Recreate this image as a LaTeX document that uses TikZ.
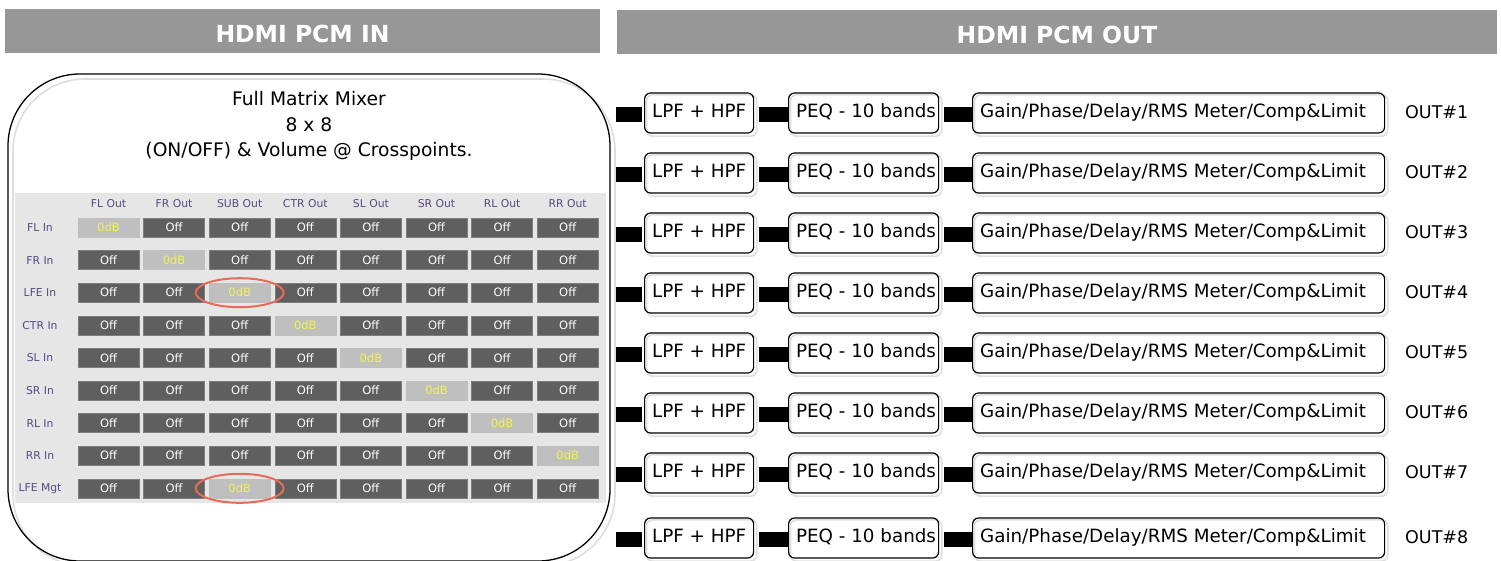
\documentclass[tikz,border=0pt]{standalone}
\usepackage{fontspec}
\setmainfont{DejaVu Sans}
\usetikzlibrary{calc,backgrounds}
\definecolor{barcol}{RGB}{151,151,151}
\definecolor{panelcol}{RGB}{230,230,230}
\definecolor{cellcol}{RGB}{95,95,95}
\definecolor{celledge}{RGB}{125,125,125}
\definecolor{diagcol}{RGB}{191,191,191}
\definecolor{dbyellow}{RGB}{242,242,80}
\definecolor{labpurple}{RGB}{88,72,132}
\definecolor{ringred}{RGB}{230,108,88}
\definecolor{shadowcol}{RGB}{222,222,222}
\newcommand{\leftin}[2]{\makebox[#1pt][l]{#2}}
\tikzset{
  bar/.style={fill=barcol, inner sep=0, minimum height=44},
  hdr/.style={text=white, inner sep=0, font=\fontsize{23.5}{23.5}\selectfont\bfseries},
  cell/.style={fill=cellcol, draw=celledge, line width=0.6, minimum width=61, minimum height=19, inner sep=0, text=white, font=\fontsize{11.5}{11.5}\selectfont},
  dcell/.style={cell, fill=diagcol, draw=diagcol, text=dbyellow},
  lab/.style={text=labpurple, inner sep=0, font=\fontsize{10.8}{10.8}\selectfont},
  pbox/.style={draw, line width=1.2, rounded corners=6, minimum height=40, inner xsep=7, inner ysep=0, text height=13, text depth=3.5, anchor=west, font=\fontsize{18.3}{18.3}\selectfont},
  shadowline/.style={draw=shadowcol, line width=1.6, rounded corners=6},
  link/.style={line width=15},
  outlab/.style={anchor=west, inner sep=0, font=\fontsize{17.5}{17.5}\selectfont},
  ring/.style={draw=ringred, line width=2},
}
\begin{document}
\begin{tikzpicture}[x=1pt,y=-1pt]
\useasboundingbox (0,0) rectangle (1501,560);
% header bars
\node[bar, minimum width=595] (inbar) at (302.5,31) {};
\node[hdr] (intitle) at (302.5,34) {HDMI PCM IN};
\node[bar, minimum width=880] (outbar) at (1057,31.5) {};
\node[hdr] (outtitle) at (1057,34.5) {HDMI PCM OUT};
% mixer box
\draw[shadowcol, line width=1.6, rounded corners=72] (13,79) rectangle (615,566);
\draw[line width=1.3, rounded corners=72] (8,74) rectangle (610,561);
\node[align=center, inner sep=0, font=\fontsize{18.7}{25.5}\selectfont] (mixtitle) at (309,126) {Full Matrix Mixer\\8 x 8\\(ON/OFF) \& Volume @ Crosspoints.};
% matrix panel
\fill[panelcol] (15,193) rectangle (606,503);
\foreach \cl [count=\j from 0] in {FL Out,FR Out,SUB Out,CTR Out,SL Out,SR Out,RL Out,RR Out}
  \node[lab] (col\j) at ({108.5+65.6*\j},204) {\cl};
\foreach \rl [count=\i from 0] in {FL In,FR In,LFE In,CTR In,SL In,SR In,RL In,RR In,LFE Mgt}{
  \node[lab] (row\i) at (40,{227.5+32.6*\i}) {\rl};
  \foreach \j in {0,...,7}{
    \pgfmathtruncatemacro\isd{((\i==\j)||((\i==8)&&(\j==2)))?1:0}
    \ifnum\isd=1
      \node[dcell] (m\i-\j) at ({108.5+65.6*\j},{227.5+32.6*\i}) {0dB};
    \else
      \node[cell] (m\i-\j) at ({108.5+65.6*\j},{227.5+32.6*\i}) {Off};
    \fi
  }
}
\draw[ring] (m2-2.center) ellipse [x radius=44, y radius=14.5];
\draw[ring] (m8-2.center) ellipse [x radius=44, y radius=14.5];
% output chains
\foreach \yc [count=\k] in {113,173,233,293,353,413,473,538}{
  \node[pbox, minimum width=109] (lpf\k) at (644,\yc) {\leftin{94}{LPF + HPF}};
  \node[pbox, minimum width=150] (peq\k) at (788,\yc) {\leftin{135}{PEQ - 10 bands}};
  \node[pbox, minimum width=412] (gain\k) at (972,\yc) {\leftin{397}{Gain/Phase/Delay/RMS Meter/Comp\&Limit}};
  \node[outlab] (out\k) at (1405,\yc-1) {OUT\#\k};
  \coordinate (src\k) at (616,\yc+1);
  \draw[link] (src\k) -- ([shift={(-2,1)}]lpf\k.west);
  \draw[link] ([shift={(5,1)}]lpf\k.east) -- ([shift={(0,1)}]peq\k.west);
  \draw[link] ([shift={(5,1)}]peq\k.east) -- ([shift={(0,1)}]gain\k.west);
  \begin{pgfonlayer}{background}
    \foreach \n in {lpf,peq,gain}
      \draw[shadowline] ([shift={(2.5,2.5)}]\n\k.south west) rectangle ([shift={(2.5,2.5)}]\n\k.north east);
  \end{pgfonlayer}
}
\end{tikzpicture}
\end{document}
